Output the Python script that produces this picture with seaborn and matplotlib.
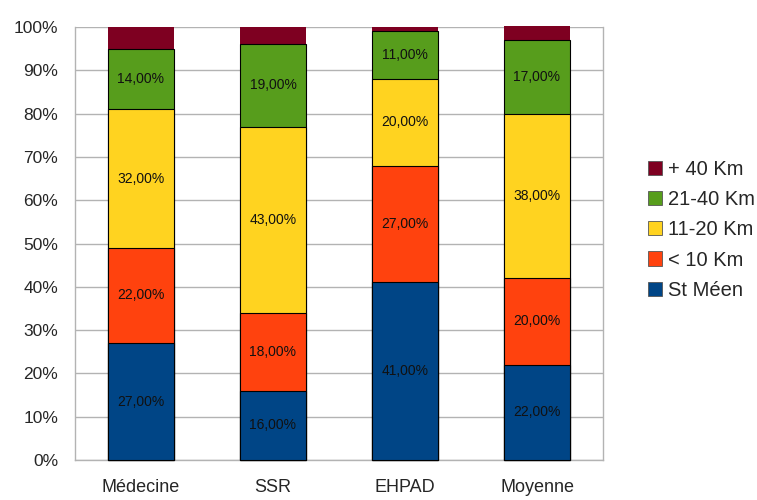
import numpy as np
import pandas as pd
import seaborn as sns
import matplotlib.pyplot as plt
from matplotlib.patches import Patch

sns.set_style('white')
plt.rcParams['font.family'] = ['Liberation Sans', 'DejaVu Sans']

categories = ['Médecine', 'SSR', 'EHPAD', 'Moyenne']
series = ['St Méen', '< 10 Km', '11-20 Km', '21-40 Km', '+ 40 Km']
st_meen = [27, 16, 41, 22]
moins_10 = [22, 18, 27, 20]
km_11_20 = [32, 43, 20, 38]
km_21_40 = [14, 19, 11, 17]
plus_40 = [5, 4, 1, 3.3]
colors = ['#004586', '#ff420e', '#ffd320', '#579d1c', '#7e0021']

d = pd.DataFrame({'cat': categories, 'St Méen': st_meen, '< 10 Km': moins_10,
                  '11-20 Km': km_11_20, '21-40 Km': km_21_40, '+ 40 Km': plus_40})
cum = d[series].cumsum(axis=1)
cum['cat'] = d['cat']

fig = plt.figure(figsize=(7.57, 5), dpi=100)
ax = fig.add_axes([75/757, 40/500, 528/757, 433/500])

# draw cumulative bars from the top down so each layer covers the next
for i in range(len(series) - 1, -1, -1):
    s = series[i]
    ec = 'none' if s == '+ 40 Km' else 'black'
    sns.barplot(data=cum, x='cat', y=s, color=colors[i], width=0.5,
                edgecolor=ec, linewidth=0.8, saturation=1, ax=ax, zorder=3,
                clip_on=False)

# value labels (all but the top segment)
for j in range(len(categories)):
    base = 0
    for i, s in enumerate(series):
        v = d[s][j]
        if s != '+ 40 Km':
            ax.text(j, base + v / 2, f'{v:.2f}'.replace('.', ',') + '%',
                    ha='center', va='center', fontsize=10, color='#111111',
                    zorder=5)
        base += v

ax.set_ylim(0, 100)
ax.set_xlim(-0.5, 3.5)
ax.set_yticks(np.arange(0, 101, 10))
ax.set_yticklabels([f'{t}%' for t in range(0, 101, 10)], fontsize=12.5)
ax.set_xticks(range(4))
ax.set_xticklabels(categories, fontsize=13)
ax.set_xticks([-0.5, 0.5, 1.5, 2.5, 3.5], minor=True)
ax.tick_params(axis='x', which='major', length=0, pad=14)
ax.tick_params(axis='x', which='minor', length=10, color='#b3b3b3', width=1)
ax.tick_params(axis='y', length=9, color='#b3b3b3', width=1, pad=3)
ax.set_xlabel('')
ax.set_ylabel('')
ax.grid(axis='y', color='#b3b3b3', linewidth=1, zorder=0)
for sp in ax.spines.values():
    sp.set_color('#b3b3b3')
    sp.set_linewidth(1)
ax.spines['top'].set_visible(False)

handles = [Patch(facecolor=colors[i], edgecolor='#555555', linewidth=0.6,
                 label=series[i]) for i in range(len(series) - 1, -1, -1)]
fig.legend(handles=handles, loc='center left', bbox_to_anchor=(630/757, 0.54),
           frameon=False, fontsize=14.5, handlelength=0.7, handleheight=0.7,
           handletextpad=0.3, labelspacing=0.55)

fig.savefig('out.png', dpi=100)
